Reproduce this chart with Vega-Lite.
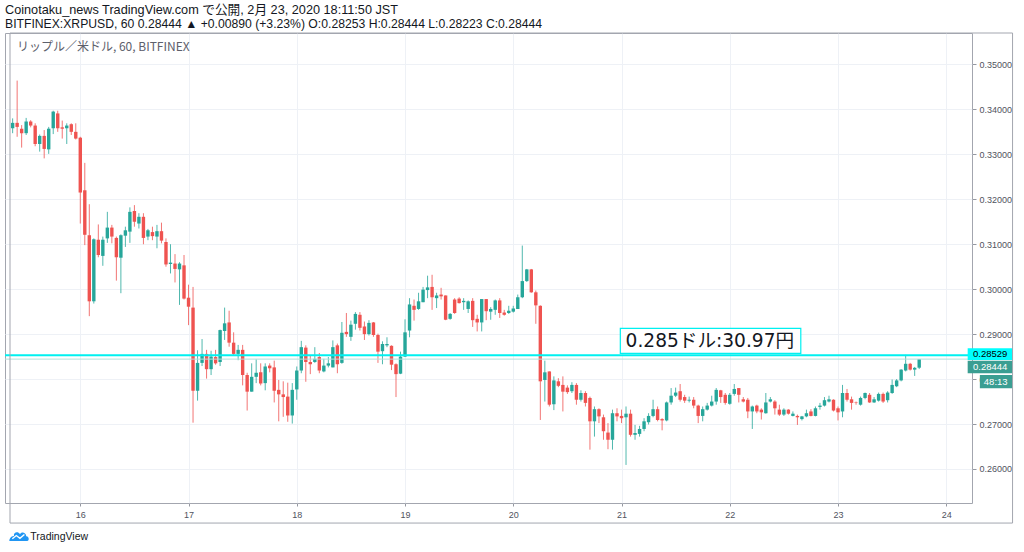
{
  "$schema": "https://vega.github.io/schema/vega-lite/v6.json",
  "width": 967,
  "height": 470,
  "autosize": {"type": "none"},
  "padding": {"left": 5, "top": 33, "right": 52, "bottom": 49},
  "background": "#ffffff",
  "title": {
    "text": "Coinotaku_news TradingView.com で公開, 2月 23, 2020 18:11:50 JST",
    "subtitle": "BITFINEX:XRPUSD, 60 0.28444 ▲ +0.00890 (+3.23%) O:0.28253 H:0.28444 L:0.28223 C:0.28444",
    "anchor": "start",
    "frame": "group",
    "font": "Liberation Sans, Noto Sans CJK JP",
    "fontSize": 12.7,
    "fontWeight": "normal",
    "color": "#131722",
    "subtitleFont": "Liberation Sans, Noto Sans CJK JP",
    "subtitleFontSize": 12.2,
    "subtitleColor": "#131722",
    "subtitlePadding": 2,
    "offset": 2
  },
  "config": {
    "view": {"stroke": "#a3a6af", "strokeWidth": 1},
    "axis": {
      "labelFont": "Liberation Sans",
      "labelFontSize": 9,
      "labelColor": "#50535e",
      "tickColor": "#9598a1",
      "gridColor": "#eef1f6",
      "domain": false,
      "title": null
    }
  },
  "datasets": {
    "xrp": [
      {"t": "2020-02-15T09:00:00Z", "o": 0.3358, "h": 0.3380, "l": 0.3347, "c": 0.3370},
      {"t": "2020-02-15T10:00:00Z", "o": 0.3370, "h": 0.3464, "l": 0.3339, "c": 0.3361},
      {"t": "2020-02-15T11:00:00Z", "o": 0.3357, "h": 0.3365, "l": 0.3315, "c": 0.3347},
      {"t": "2020-02-15T12:00:00Z", "o": 0.3347, "h": 0.3381, "l": 0.3343, "c": 0.3373},
      {"t": "2020-02-15T13:00:00Z", "o": 0.3373, "h": 0.3376, "l": 0.3360, "c": 0.3364},
      {"t": "2020-02-15T14:00:00Z", "o": 0.3364, "h": 0.3369, "l": 0.3318, "c": 0.3323},
      {"t": "2020-02-15T15:00:00Z", "o": 0.3323, "h": 0.3344, "l": 0.3306, "c": 0.3341},
      {"t": "2020-02-15T16:00:00Z", "o": 0.3341, "h": 0.3354, "l": 0.3291, "c": 0.3312},
      {"t": "2020-02-15T17:00:00Z", "o": 0.3311, "h": 0.3361, "l": 0.3301, "c": 0.3357},
      {"t": "2020-02-15T18:00:00Z", "o": 0.3358, "h": 0.3397, "l": 0.3345, "c": 0.3395},
      {"t": "2020-02-15T19:00:00Z", "o": 0.3391, "h": 0.3397, "l": 0.3350, "c": 0.3358},
      {"t": "2020-02-15T20:00:00Z", "o": 0.3360, "h": 0.3375, "l": 0.3335, "c": 0.3357},
      {"t": "2020-02-15T21:00:00Z", "o": 0.3358, "h": 0.3369, "l": 0.3323, "c": 0.3364},
      {"t": "2020-02-15T22:00:00Z", "o": 0.3367, "h": 0.3369, "l": 0.3343, "c": 0.3350},
      {"t": "2020-02-15T23:00:00Z", "o": 0.3350, "h": 0.3369, "l": 0.3333, "c": 0.3335},
      {"t": "2020-02-16T00:00:00Z", "o": 0.3337, "h": 0.3339, "l": 0.3146, "c": 0.3215},
      {"t": "2020-02-16T01:00:00Z", "o": 0.3220, "h": 0.3281, "l": 0.3098, "c": 0.3121},
      {"t": "2020-02-16T02:00:00Z", "o": 0.3120, "h": 0.3189, "l": 0.2940, "c": 0.2973},
      {"t": "2020-02-16T03:00:00Z", "o": 0.2973, "h": 0.3113, "l": 0.2968, "c": 0.3111},
      {"t": "2020-02-16T04:00:00Z", "o": 0.3110, "h": 0.3144, "l": 0.3071, "c": 0.3076},
      {"t": "2020-02-16T05:00:00Z", "o": 0.3074, "h": 0.3117, "l": 0.3052, "c": 0.3110},
      {"t": "2020-02-16T06:00:00Z", "o": 0.3113, "h": 0.3172, "l": 0.3103, "c": 0.3137},
      {"t": "2020-02-16T07:00:00Z", "o": 0.3137, "h": 0.3143, "l": 0.3102, "c": 0.3117},
      {"t": "2020-02-16T08:00:00Z", "o": 0.3114, "h": 0.3117, "l": 0.3019, "c": 0.3071},
      {"t": "2020-02-16T09:00:00Z", "o": 0.3070, "h": 0.3122, "l": 0.2991, "c": 0.3120},
      {"t": "2020-02-16T10:00:00Z", "o": 0.3119, "h": 0.3139, "l": 0.3094, "c": 0.3131},
      {"t": "2020-02-16T11:00:00Z", "o": 0.3128, "h": 0.3182, "l": 0.3103, "c": 0.3172},
      {"t": "2020-02-16T12:00:00Z", "o": 0.3174, "h": 0.3187, "l": 0.3139, "c": 0.3150},
      {"t": "2020-02-16T13:00:00Z", "o": 0.3146, "h": 0.3169, "l": 0.3135, "c": 0.3161},
      {"t": "2020-02-16T14:00:00Z", "o": 0.3161, "h": 0.3169, "l": 0.3100, "c": 0.3114},
      {"t": "2020-02-16T15:00:00Z", "o": 0.3117, "h": 0.3134, "l": 0.3109, "c": 0.3131},
      {"t": "2020-02-16T16:00:00Z", "o": 0.3127, "h": 0.3139, "l": 0.3109, "c": 0.3118},
      {"t": "2020-02-16T17:00:00Z", "o": 0.3117, "h": 0.3143, "l": 0.3091, "c": 0.3129},
      {"t": "2020-02-16T18:00:00Z", "o": 0.3129, "h": 0.3148, "l": 0.3102, "c": 0.3108},
      {"t": "2020-02-16T19:00:00Z", "o": 0.3105, "h": 0.3113, "l": 0.3050, "c": 0.3055},
      {"t": "2020-02-16T20:00:00Z", "o": 0.3056, "h": 0.3100, "l": 0.3035, "c": 0.3059},
      {"t": "2020-02-16T21:00:00Z", "o": 0.3057, "h": 0.3078, "l": 0.3015, "c": 0.3045},
      {"t": "2020-02-16T22:00:00Z", "o": 0.3044, "h": 0.3060, "l": 0.2965, "c": 0.3057},
      {"t": "2020-02-16T23:00:00Z", "o": 0.3053, "h": 0.3076, "l": 0.2977, "c": 0.2979},
      {"t": "2020-02-17T00:00:00Z", "o": 0.2981, "h": 0.3010, "l": 0.2920, "c": 0.2961},
      {"t": "2020-02-17T01:00:00Z", "o": 0.2959, "h": 0.3005, "l": 0.2703, "c": 0.2774},
      {"t": "2020-02-17T02:00:00Z", "o": 0.2774, "h": 0.2864, "l": 0.2752, "c": 0.2836},
      {"t": "2020-02-17T03:00:00Z", "o": 0.2836, "h": 0.2889, "l": 0.2829, "c": 0.2856},
      {"t": "2020-02-17T04:00:00Z", "o": 0.2856, "h": 0.2865, "l": 0.2801, "c": 0.2822},
      {"t": "2020-02-17T05:00:00Z", "o": 0.2822, "h": 0.2863, "l": 0.2809, "c": 0.2850},
      {"t": "2020-02-17T06:00:00Z", "o": 0.2849, "h": 0.2865, "l": 0.2832, "c": 0.2835},
      {"t": "2020-02-17T07:00:00Z", "o": 0.2838, "h": 0.2910, "l": 0.2829, "c": 0.2909},
      {"t": "2020-02-17T08:00:00Z", "o": 0.2907, "h": 0.2959, "l": 0.2887, "c": 0.2924},
      {"t": "2020-02-17T09:00:00Z", "o": 0.2926, "h": 0.2952, "l": 0.2872, "c": 0.2881},
      {"t": "2020-02-17T10:00:00Z", "o": 0.2881, "h": 0.2904, "l": 0.2852, "c": 0.2856},
      {"t": "2020-02-17T11:00:00Z", "o": 0.2856, "h": 0.2876, "l": 0.2842, "c": 0.2865},
      {"t": "2020-02-17T12:00:00Z", "o": 0.2865, "h": 0.2876, "l": 0.2786, "c": 0.2809},
      {"t": "2020-02-17T13:00:00Z", "o": 0.2809, "h": 0.2814, "l": 0.2730, "c": 0.2772},
      {"t": "2020-02-17T14:00:00Z", "o": 0.2772, "h": 0.2835, "l": 0.2772, "c": 0.2805},
      {"t": "2020-02-17T15:00:00Z", "o": 0.2805, "h": 0.2844, "l": 0.2791, "c": 0.2814},
      {"t": "2020-02-17T16:00:00Z", "o": 0.2815, "h": 0.2835, "l": 0.2786, "c": 0.2790},
      {"t": "2020-02-17T17:00:00Z", "o": 0.2791, "h": 0.2835, "l": 0.2775, "c": 0.2828},
      {"t": "2020-02-17T18:00:00Z", "o": 0.2830, "h": 0.2835, "l": 0.2815, "c": 0.2824},
      {"t": "2020-02-17T19:00:00Z", "o": 0.2826, "h": 0.2841, "l": 0.2748, "c": 0.2774},
      {"t": "2020-02-17T20:00:00Z", "o": 0.2776, "h": 0.2798, "l": 0.2706, "c": 0.2766},
      {"t": "2020-02-17T21:00:00Z", "o": 0.2766, "h": 0.2795, "l": 0.2716, "c": 0.2760},
      {"t": "2020-02-17T22:00:00Z", "o": 0.2761, "h": 0.2792, "l": 0.2705, "c": 0.2719},
      {"t": "2020-02-17T23:00:00Z", "o": 0.2719, "h": 0.2791, "l": 0.2701, "c": 0.2776},
      {"t": "2020-02-18T00:00:00Z", "o": 0.2777, "h": 0.2828, "l": 0.2754, "c": 0.2819},
      {"t": "2020-02-18T01:00:00Z", "o": 0.2819, "h": 0.2885, "l": 0.2813, "c": 0.2871},
      {"t": "2020-02-18T02:00:00Z", "o": 0.2870, "h": 0.2875, "l": 0.2794, "c": 0.2838},
      {"t": "2020-02-18T03:00:00Z", "o": 0.2838, "h": 0.2853, "l": 0.2811, "c": 0.2833},
      {"t": "2020-02-18T04:00:00Z", "o": 0.2838, "h": 0.2871, "l": 0.2836, "c": 0.2845},
      {"t": "2020-02-18T05:00:00Z", "o": 0.2849, "h": 0.2858, "l": 0.2813, "c": 0.2819},
      {"t": "2020-02-18T06:00:00Z", "o": 0.2817, "h": 0.2845, "l": 0.2815, "c": 0.2830},
      {"t": "2020-02-18T07:00:00Z", "o": 0.2830, "h": 0.2849, "l": 0.2826, "c": 0.2835},
      {"t": "2020-02-18T08:00:00Z", "o": 0.2826, "h": 0.2886, "l": 0.2826, "c": 0.2871},
      {"t": "2020-02-18T09:00:00Z", "o": 0.2875, "h": 0.2879, "l": 0.2813, "c": 0.2833},
      {"t": "2020-02-18T10:00:00Z", "o": 0.2836, "h": 0.2927, "l": 0.2834, "c": 0.2903},
      {"t": "2020-02-18T11:00:00Z", "o": 0.2905, "h": 0.2947, "l": 0.2894, "c": 0.2900},
      {"t": "2020-02-18T12:00:00Z", "o": 0.2894, "h": 0.2930, "l": 0.2885, "c": 0.2921},
      {"t": "2020-02-18T13:00:00Z", "o": 0.2923, "h": 0.2949, "l": 0.2910, "c": 0.2945},
      {"t": "2020-02-18T14:00:00Z", "o": 0.2943, "h": 0.2949, "l": 0.2908, "c": 0.2914},
      {"t": "2020-02-18T15:00:00Z", "o": 0.2917, "h": 0.2928, "l": 0.2887, "c": 0.2900},
      {"t": "2020-02-18T16:00:00Z", "o": 0.2900, "h": 0.2931, "l": 0.2897, "c": 0.2925},
      {"t": "2020-02-18T17:00:00Z", "o": 0.2926, "h": 0.2927, "l": 0.2894, "c": 0.2898},
      {"t": "2020-02-18T18:00:00Z", "o": 0.2898, "h": 0.2901, "l": 0.2836, "c": 0.2861},
      {"t": "2020-02-18T19:00:00Z", "o": 0.2862, "h": 0.2884, "l": 0.2833, "c": 0.2878},
      {"t": "2020-02-18T20:00:00Z", "o": 0.2875, "h": 0.2893, "l": 0.2871, "c": 0.2878},
      {"t": "2020-02-18T21:00:00Z", "o": 0.2874, "h": 0.2875, "l": 0.2820, "c": 0.2832},
      {"t": "2020-02-18T22:00:00Z", "o": 0.2833, "h": 0.2835, "l": 0.2760, "c": 0.2811},
      {"t": "2020-02-18T23:00:00Z", "o": 0.2812, "h": 0.2861, "l": 0.2811, "c": 0.2850},
      {"t": "2020-02-19T00:00:00Z", "o": 0.2850, "h": 0.2933, "l": 0.2849, "c": 0.2904},
      {"t": "2020-02-19T01:00:00Z", "o": 0.2908, "h": 0.2980, "l": 0.2893, "c": 0.2966},
      {"t": "2020-02-19T02:00:00Z", "o": 0.2963, "h": 0.2977, "l": 0.2930, "c": 0.2954},
      {"t": "2020-02-19T03:00:00Z", "o": 0.2956, "h": 0.2992, "l": 0.2954, "c": 0.2973},
      {"t": "2020-02-19T04:00:00Z", "o": 0.2971, "h": 0.3005, "l": 0.2971, "c": 0.2999},
      {"t": "2020-02-19T05:00:00Z", "o": 0.2998, "h": 0.3030, "l": 0.2980, "c": 0.3004},
      {"t": "2020-02-19T06:00:00Z", "o": 0.3005, "h": 0.3032, "l": 0.2954, "c": 0.2982},
      {"t": "2020-02-19T07:00:00Z", "o": 0.2980, "h": 0.2992, "l": 0.2958, "c": 0.2986},
      {"t": "2020-02-19T08:00:00Z", "o": 0.2988, "h": 0.3003, "l": 0.2977, "c": 0.2984},
      {"t": "2020-02-19T09:00:00Z", "o": 0.2986, "h": 0.2986, "l": 0.2931, "c": 0.2932},
      {"t": "2020-02-19T10:00:00Z", "o": 0.2934, "h": 0.2947, "l": 0.2932, "c": 0.2945},
      {"t": "2020-02-19T11:00:00Z", "o": 0.2977, "h": 0.2980, "l": 0.2945, "c": 0.2947},
      {"t": "2020-02-19T12:00:00Z", "o": 0.2979, "h": 0.2982, "l": 0.2968, "c": 0.2969},
      {"t": "2020-02-19T13:00:00Z", "o": 0.2971, "h": 0.2980, "l": 0.2954, "c": 0.2974},
      {"t": "2020-02-19T14:00:00Z", "o": 0.2956, "h": 0.2975, "l": 0.2947, "c": 0.2973},
      {"t": "2020-02-19T15:00:00Z", "o": 0.2974, "h": 0.2980, "l": 0.2916, "c": 0.2931},
      {"t": "2020-02-19T16:00:00Z", "o": 0.2934, "h": 0.2943, "l": 0.2906, "c": 0.2926},
      {"t": "2020-02-19T17:00:00Z", "o": 0.2926, "h": 0.2978, "l": 0.2906, "c": 0.2978},
      {"t": "2020-02-19T18:00:00Z", "o": 0.2978, "h": 0.2978, "l": 0.2931, "c": 0.2951},
      {"t": "2020-02-19T19:00:00Z", "o": 0.2950, "h": 0.2960, "l": 0.2932, "c": 0.2956},
      {"t": "2020-02-19T20:00:00Z", "o": 0.2954, "h": 0.2977, "l": 0.2943, "c": 0.2975},
      {"t": "2020-02-19T21:00:00Z", "o": 0.2975, "h": 0.2980, "l": 0.2936, "c": 0.2947},
      {"t": "2020-02-19T22:00:00Z", "o": 0.2948, "h": 0.2954, "l": 0.2941, "c": 0.2943},
      {"t": "2020-02-19T23:00:00Z", "o": 0.2947, "h": 0.2963, "l": 0.2945, "c": 0.2952},
      {"t": "2020-02-20T00:00:00Z", "o": 0.2950, "h": 0.2963, "l": 0.2948, "c": 0.2957},
      {"t": "2020-02-20T01:00:00Z", "o": 0.2956, "h": 0.2988, "l": 0.2956, "c": 0.2982},
      {"t": "2020-02-20T02:00:00Z", "o": 0.2982, "h": 0.3097, "l": 0.2980, "c": 0.3018},
      {"t": "2020-02-20T03:00:00Z", "o": 0.3018, "h": 0.3045, "l": 0.3016, "c": 0.3044},
      {"t": "2020-02-20T04:00:00Z", "o": 0.3044, "h": 0.3045, "l": 0.2992, "c": 0.2993},
      {"t": "2020-02-20T05:00:00Z", "o": 0.2993, "h": 0.2997, "l": 0.2923, "c": 0.2964},
      {"t": "2020-02-20T06:00:00Z", "o": 0.2963, "h": 0.2964, "l": 0.2709, "c": 0.2795},
      {"t": "2020-02-20T07:00:00Z", "o": 0.2798, "h": 0.2841, "l": 0.2750, "c": 0.2815},
      {"t": "2020-02-20T08:00:00Z", "o": 0.2817, "h": 0.2817, "l": 0.2739, "c": 0.2743},
      {"t": "2020-02-20T09:00:00Z", "o": 0.2744, "h": 0.2806, "l": 0.2731, "c": 0.2797},
      {"t": "2020-02-20T10:00:00Z", "o": 0.2795, "h": 0.2802, "l": 0.2782, "c": 0.2785},
      {"t": "2020-02-20T11:00:00Z", "o": 0.2787, "h": 0.2806, "l": 0.2728, "c": 0.2772},
      {"t": "2020-02-20T12:00:00Z", "o": 0.2781, "h": 0.2786, "l": 0.2767, "c": 0.2771},
      {"t": "2020-02-20T13:00:00Z", "o": 0.2773, "h": 0.2793, "l": 0.2769, "c": 0.2787},
      {"t": "2020-02-20T14:00:00Z", "o": 0.2787, "h": 0.2791, "l": 0.2743, "c": 0.2754},
      {"t": "2020-02-20T15:00:00Z", "o": 0.2754, "h": 0.2775, "l": 0.2750, "c": 0.2769},
      {"t": "2020-02-20T16:00:00Z", "o": 0.2769, "h": 0.2773, "l": 0.2739, "c": 0.2747},
      {"t": "2020-02-20T17:00:00Z", "o": 0.2758, "h": 0.2761, "l": 0.2643, "c": 0.2706},
      {"t": "2020-02-20T18:00:00Z", "o": 0.2706, "h": 0.2739, "l": 0.2672, "c": 0.2733},
      {"t": "2020-02-20T19:00:00Z", "o": 0.2733, "h": 0.2735, "l": 0.2702, "c": 0.2717},
      {"t": "2020-02-20T20:00:00Z", "o": 0.2715, "h": 0.2721, "l": 0.2665, "c": 0.2684},
      {"t": "2020-02-20T21:00:00Z", "o": 0.2681, "h": 0.2702, "l": 0.2644, "c": 0.2665},
      {"t": "2020-02-20T22:00:00Z", "o": 0.2665, "h": 0.2732, "l": 0.2643, "c": 0.2724},
      {"t": "2020-02-20T23:00:00Z", "o": 0.2724, "h": 0.2735, "l": 0.2706, "c": 0.2717},
      {"t": "2020-02-21T00:00:00Z", "o": 0.2718, "h": 0.2732, "l": 0.2702, "c": 0.2713},
      {"t": "2020-02-21T01:00:00Z", "o": 0.2715, "h": 0.2739, "l": 0.2609, "c": 0.2723},
      {"t": "2020-02-21T02:00:00Z", "o": 0.2723, "h": 0.2732, "l": 0.2672, "c": 0.2676},
      {"t": "2020-02-21T03:00:00Z", "o": 0.2676, "h": 0.2698, "l": 0.2665, "c": 0.2680},
      {"t": "2020-02-21T04:00:00Z", "o": 0.2678, "h": 0.2696, "l": 0.2672, "c": 0.2689},
      {"t": "2020-02-21T05:00:00Z", "o": 0.2689, "h": 0.2713, "l": 0.2684, "c": 0.2706},
      {"t": "2020-02-21T06:00:00Z", "o": 0.2704, "h": 0.2724, "l": 0.2699, "c": 0.2718},
      {"t": "2020-02-21T07:00:00Z", "o": 0.2718, "h": 0.2754, "l": 0.2715, "c": 0.2733},
      {"t": "2020-02-21T08:00:00Z", "o": 0.2733, "h": 0.2739, "l": 0.2706, "c": 0.2709},
      {"t": "2020-02-21T09:00:00Z", "o": 0.2711, "h": 0.2713, "l": 0.2686, "c": 0.2708},
      {"t": "2020-02-21T10:00:00Z", "o": 0.2708, "h": 0.2750, "l": 0.2706, "c": 0.2748},
      {"t": "2020-02-21T11:00:00Z", "o": 0.2748, "h": 0.2780, "l": 0.2743, "c": 0.2763},
      {"t": "2020-02-21T12:00:00Z", "o": 0.2763, "h": 0.2781, "l": 0.2760, "c": 0.2770},
      {"t": "2020-02-21T13:00:00Z", "o": 0.2773, "h": 0.2789, "l": 0.2750, "c": 0.2754},
      {"t": "2020-02-21T14:00:00Z", "o": 0.2760, "h": 0.2765, "l": 0.2747, "c": 0.2752},
      {"t": "2020-02-21T15:00:00Z", "o": 0.2752, "h": 0.2761, "l": 0.2748, "c": 0.2754},
      {"t": "2020-02-21T16:00:00Z", "o": 0.2754, "h": 0.2760, "l": 0.2735, "c": 0.2741},
      {"t": "2020-02-21T17:00:00Z", "o": 0.2741, "h": 0.2743, "l": 0.2702, "c": 0.2718},
      {"t": "2020-02-21T18:00:00Z", "o": 0.2718, "h": 0.2739, "l": 0.2706, "c": 0.2733},
      {"t": "2020-02-21T19:00:00Z", "o": 0.2732, "h": 0.2747, "l": 0.2730, "c": 0.2741},
      {"t": "2020-02-21T20:00:00Z", "o": 0.2741, "h": 0.2763, "l": 0.2739, "c": 0.2750},
      {"t": "2020-02-21T21:00:00Z", "o": 0.2750, "h": 0.2780, "l": 0.2743, "c": 0.2776},
      {"t": "2020-02-21T22:00:00Z", "o": 0.2775, "h": 0.2776, "l": 0.2747, "c": 0.2760},
      {"t": "2020-02-21T23:00:00Z", "o": 0.2765, "h": 0.2769, "l": 0.2743, "c": 0.2747},
      {"t": "2020-02-22T00:00:00Z", "o": 0.2745, "h": 0.2769, "l": 0.2743, "c": 0.2765},
      {"t": "2020-02-22T01:00:00Z", "o": 0.2767, "h": 0.2789, "l": 0.2763, "c": 0.2778},
      {"t": "2020-02-22T02:00:00Z", "o": 0.2780, "h": 0.2780, "l": 0.2748, "c": 0.2765},
      {"t": "2020-02-22T03:00:00Z", "o": 0.2755, "h": 0.2760, "l": 0.2748, "c": 0.2750},
      {"t": "2020-02-22T04:00:00Z", "o": 0.2754, "h": 0.2758, "l": 0.2713, "c": 0.2728},
      {"t": "2020-02-22T05:00:00Z", "o": 0.2728, "h": 0.2741, "l": 0.2689, "c": 0.2739},
      {"t": "2020-02-22T06:00:00Z", "o": 0.2741, "h": 0.2743, "l": 0.2724, "c": 0.2728},
      {"t": "2020-02-22T07:00:00Z", "o": 0.2732, "h": 0.2735, "l": 0.2710, "c": 0.2726},
      {"t": "2020-02-22T08:00:00Z", "o": 0.2724, "h": 0.2769, "l": 0.2723, "c": 0.2748},
      {"t": "2020-02-22T09:00:00Z", "o": 0.2750, "h": 0.2760, "l": 0.2748, "c": 0.2755},
      {"t": "2020-02-22T10:00:00Z", "o": 0.2750, "h": 0.2753, "l": 0.2721, "c": 0.2735},
      {"t": "2020-02-22T11:00:00Z", "o": 0.2732, "h": 0.2743, "l": 0.2718, "c": 0.2721},
      {"t": "2020-02-22T12:00:00Z", "o": 0.2721, "h": 0.2735, "l": 0.2718, "c": 0.2732},
      {"t": "2020-02-22T13:00:00Z", "o": 0.2732, "h": 0.2733, "l": 0.2721, "c": 0.2723},
      {"t": "2020-02-22T14:00:00Z", "o": 0.2718, "h": 0.2728, "l": 0.2717, "c": 0.2723},
      {"t": "2020-02-22T15:00:00Z", "o": 0.2718, "h": 0.2721, "l": 0.2698, "c": 0.2715},
      {"t": "2020-02-22T16:00:00Z", "o": 0.2711, "h": 0.2718, "l": 0.2708, "c": 0.2717},
      {"t": "2020-02-22T17:00:00Z", "o": 0.2717, "h": 0.2732, "l": 0.2715, "c": 0.2724},
      {"t": "2020-02-22T18:00:00Z", "o": 0.2728, "h": 0.2733, "l": 0.2717, "c": 0.2718},
      {"t": "2020-02-22T19:00:00Z", "o": 0.2718, "h": 0.2739, "l": 0.2717, "c": 0.2735},
      {"t": "2020-02-22T20:00:00Z", "o": 0.2738, "h": 0.2747, "l": 0.2732, "c": 0.2741},
      {"t": "2020-02-22T21:00:00Z", "o": 0.2741, "h": 0.2760, "l": 0.2739, "c": 0.2753},
      {"t": "2020-02-22T22:00:00Z", "o": 0.2750, "h": 0.2763, "l": 0.2748, "c": 0.2755},
      {"t": "2020-02-22T23:00:00Z", "o": 0.2754, "h": 0.2755, "l": 0.2728, "c": 0.2730},
      {"t": "2020-02-23T00:00:00Z", "o": 0.2735, "h": 0.2739, "l": 0.2708, "c": 0.2726},
      {"t": "2020-02-23T01:00:00Z", "o": 0.2728, "h": 0.2787, "l": 0.2715, "c": 0.2769},
      {"t": "2020-02-23T02:00:00Z", "o": 0.2769, "h": 0.2778, "l": 0.2750, "c": 0.2754},
      {"t": "2020-02-23T03:00:00Z", "o": 0.2755, "h": 0.2761, "l": 0.2732, "c": 0.2747},
      {"t": "2020-02-23T04:00:00Z", "o": 0.2748, "h": 0.2750, "l": 0.2743, "c": 0.2747},
      {"t": "2020-02-23T05:00:00Z", "o": 0.2743, "h": 0.2761, "l": 0.2741, "c": 0.2758},
      {"t": "2020-02-23T06:00:00Z", "o": 0.2758, "h": 0.2770, "l": 0.2755, "c": 0.2769},
      {"t": "2020-02-23T07:00:00Z", "o": 0.2765, "h": 0.2769, "l": 0.2747, "c": 0.2748},
      {"t": "2020-02-23T08:00:00Z", "o": 0.2748, "h": 0.2760, "l": 0.2747, "c": 0.2755},
      {"t": "2020-02-23T09:00:00Z", "o": 0.2752, "h": 0.2770, "l": 0.2750, "c": 0.2767},
      {"t": "2020-02-23T10:00:00Z", "o": 0.2767, "h": 0.2770, "l": 0.2747, "c": 0.2750},
      {"t": "2020-02-23T11:00:00Z", "o": 0.2753, "h": 0.2773, "l": 0.2748, "c": 0.2770},
      {"t": "2020-02-23T12:00:00Z", "o": 0.2769, "h": 0.2799, "l": 0.2767, "c": 0.2787},
      {"t": "2020-02-23T13:00:00Z", "o": 0.2784, "h": 0.2800, "l": 0.2782, "c": 0.2797},
      {"t": "2020-02-23T14:00:00Z", "o": 0.2797, "h": 0.2822, "l": 0.2795, "c": 0.2821},
      {"t": "2020-02-23T15:00:00Z", "o": 0.2819, "h": 0.2854, "l": 0.2817, "c": 0.2834},
      {"t": "2020-02-23T16:00:00Z", "o": 0.2834, "h": 0.2836, "l": 0.2819, "c": 0.2821},
      {"t": "2020-02-23T17:00:00Z", "o": 0.2821, "h": 0.2827, "l": 0.2807, "c": 0.2825},
      {"t": "2020-02-23T18:00:00Z", "o": 0.28253, "h": 0.28444, "l": 0.28223, "c": 0.28444}
    ]
  },
  "layer": [
    {
      "data": {"name": "xrp"},
      "mark": {"type": "rule", "strokeWidth": 1, "opacity": 0.8},
      "encoding": {
        "x": {
          "field": "t",
          "type": "temporal",
          "scale": {
            "type": "utc",
            "domain": [
              {"year": 2020, "month": 2, "date": 15, "hours": 8, "minutes": 25, "utc": true},
              {"year": 2020, "month": 2, "date": 24, "hours": 4, "minutes": 36, "utc": true}
            ]
          },
          "axis": {
            "orient": "bottom",
            "format": "%-d",
            "values": [
              {"year": 2020, "month": 2, "date": 16, "utc": true},
              {"year": 2020, "month": 2, "date": 17, "utc": true},
              {"year": 2020, "month": 2, "date": 18, "utc": true},
              {"year": 2020, "month": 2, "date": 19, "utc": true},
              {"year": 2020, "month": 2, "date": 20, "utc": true},
              {"year": 2020, "month": 2, "date": 21, "utc": true},
              {"year": 2020, "month": 2, "date": 22, "utc": true},
              {"year": 2020, "month": 2, "date": 23, "utc": true},
              {"year": 2020, "month": 2, "date": 24, "utc": true}
            ],
            "tickSize": 3,
            "labelPadding": 4,
            "labelFlush": false
          }
        },
        "y": {
          "field": "l",
          "type": "quantitative",
          "scale": {"domain": [0.25243, 0.35699], "nice": false, "zero": false},
          "axis": {
            "orient": "right",
            "format": ".5f",
            "values": [0.26, 0.27, 0.28, 0.29, 0.30, 0.31, 0.32, 0.33, 0.34, 0.35],
            "tickSize": 4,
            "labelPadding": 3
          }
        },
        "y2": {"field": "h"},
        "color": {
          "condition": {"test": "datum.c >= datum.o", "value": "#26a69a"},
          "value": "#ef5350"
        }
      }
    },
    {
      "data": {"name": "xrp"},
      "mark": {"type": "bar", "size": 3.4},
      "encoding": {
        "x": {"field": "t", "type": "temporal"},
        "y": {"field": "o", "type": "quantitative"},
        "y2": {"field": "c"},
        "color": {
          "condition": {"test": "datum.c >= datum.o", "value": "#26a69a"},
          "value": "#ef5350"
        }
      }
    },
    {
      "data": {"values": [{}]},
      "mark": {"type": "rule", "color": "#b2dfdb", "strokeWidth": 1},
      "encoding": {"y": {"datum": 0.28444, "type": "quantitative"}}
    },
    {
      "data": {"values": [{}]},
      "mark": {"type": "rule", "color": "#00f0f0", "strokeWidth": 2},
      "encoding": {"y": {"datum": 0.28529, "type": "quantitative"}}
    },
    {
      "data": {"values": [{}]},
      "mark": {"type": "rect", "fill": "#ffffff", "stroke": "#00f0f0", "strokeWidth": 1.2},
      "encoding": {
        "x": {"datum": {"year": 2020, "month": 2, "date": 20, "hours": 23, "minutes": 44, "utc": true}, "type": "temporal"},
        "x2": {"datum": {"year": 2020, "month": 2, "date": 22, "hours": 15, "minutes": 45, "utc": true}},
        "y": {"datum": 0.29129, "type": "quantitative"},
        "y2": {"datum": 0.28573}
      }
    },
    {
      "data": {"values": [{}]},
      "mark": {"type": "text", "text": "0.285ドル:30.97円", "font": "DejaVu Sans, Noto Sans CJK JP", "fontSize": 18.6, "color": "#131722", "align": "left", "baseline": "middle"},
      "encoding": {
        "x": {"datum": {"year": 2020, "month": 2, "date": 21, "hours": 0, "minutes": 54, "utc": true}, "type": "temporal"},
        "y": {"datum": 0.28846, "type": "quantitative"}
      }
    },
    {
      "data": {"values": [{}]},
      "mark": {"type": "text", "text": "リップル／米ドル, 60, BITFINEX", "font": "Noto Sans CJK JP", "fontSize": 12, "color": "#5d606b", "align": "left", "baseline": "middle"},
      "encoding": {
        "x": {"datum": {"year": 2020, "month": 2, "date": 15, "hours": 9, "minutes": 57, "utc": true}, "type": "temporal"},
        "y": {"datum": 0.35387, "type": "quantitative"}
      }
    },
    {
      "data": {"values": [{}]},
      "mark": {"type": "rect", "fill": "#00ffff"},
      "encoding": {
        "x": {"datum": {"year": 2020, "month": 2, "date": 24, "hours": 4, "minutes": 45, "utc": true}, "type": "temporal"},
        "x2": {"datum": {"year": 2020, "month": 2, "date": 24, "hours": 14, "minutes": 42, "utc": true}},
        "y": {"datum": 0.28684, "type": "quantitative"},
        "y2": {"datum": 0.28424}
      }
    },
    {
      "data": {"values": [{}]},
      "mark": {"type": "rect", "fill": "#3a9e92"},
      "encoding": {
        "x": {"datum": {"year": 2020, "month": 2, "date": 24, "hours": 4, "minutes": 45, "utc": true}, "type": "temporal"},
        "x2": {"datum": {"year": 2020, "month": 2, "date": 24, "hours": 14, "minutes": 42, "utc": true}},
        "y": {"datum": 0.28408, "type": "quantitative"},
        "y2": {"datum": 0.28128}
      }
    },
    {
      "data": {"values": [{}]},
      "mark": {"type": "rect", "fill": "#3a9e92"},
      "encoding": {
        "x": {"datum": {"year": 2020, "month": 2, "date": 24, "hours": 7, "minutes": 27, "utc": true}, "type": "temporal"},
        "x2": {"datum": {"year": 2020, "month": 2, "date": 24, "hours": 14, "minutes": 42, "utc": true}},
        "y": {"datum": 0.2809, "type": "quantitative"},
        "y2": {"datum": 0.27794}
      }
    },
    {
      "data": {"values": [{}]},
      "mark": {"type": "text", "text": "0.28529", "font": "Liberation Sans", "fontSize": 9.5, "color": "#000000", "align": "left", "baseline": "middle"},
      "encoding": {
        "x": {"datum": {"year": 2020, "month": 2, "date": 24, "hours": 5, "minutes": 56, "utc": true}, "type": "temporal"},
        "y": {"datum": 0.28553, "type": "quantitative"}
      }
    },
    {
      "data": {"values": [{}]},
      "mark": {"type": "text", "text": "0.28444", "font": "Liberation Sans", "fontSize": 9.5, "color": "#ffffff", "align": "left", "baseline": "middle"},
      "encoding": {
        "x": {"datum": {"year": 2020, "month": 2, "date": 24, "hours": 5, "minutes": 56, "utc": true}, "type": "temporal"},
        "y": {"datum": 0.28268, "type": "quantitative"}
      }
    },
    {
      "data": {"values": [{}]},
      "mark": {"type": "text", "text": "48:13", "font": "Liberation Sans", "fontSize": 9.5, "color": "#ffffff", "align": "left", "baseline": "middle"},
      "encoding": {
        "x": {"datum": {"year": 2020, "month": 2, "date": 24, "hours": 8, "minutes": 20, "utc": true}, "type": "temporal"},
        "y": {"datum": 0.27941, "type": "quantitative"}
      }
    },
    {
      "data": {"values": [{}]},
      "mark": {"type": "rect", "fill": "transparent", "stroke": "#a3a6af", "strokeWidth": 1},
      "encoding": {
        "x": {"datum": {"year": 2020, "month": 2, "date": 15, "hours": 8, "minutes": 25, "utc": true}, "type": "temporal"},
        "x2": {"datum": {"year": 2020, "month": 2, "date": 24, "hours": 14, "minutes": 42, "utc": true}},
        "y": {"datum": 0.24797, "type": "quantitative"},
        "y2": {"datum": 0.35699}
      }
    },
    {
      "data": {"values": [{}]},
      "mark": {
        "type": "point",
        "shape": "M -1 0.45 L 0.85 0.45 C 1.08 0.45 1.08 -0.02 0.75 -0.05 C 0.7 -0.48 0.22 -0.55 0.08 -0.25 C -0.08 -0.58 -0.62 -0.5 -0.55 -0.08 C -0.92 -0.12 -1.12 0.45 -1 0.45 Z",
        "size": 361,
        "filled": true,
        "color": "#2196f3",
        "opacity": 1
      },
      "encoding": {
        "x": {"datum": {"year": 2020, "month": 2, "date": 15, "hours": 10, "minutes": 27, "utc": true}, "type": "temporal"},
        "y": {"datum": 0.24494, "type": "quantitative"}
      }
    },
    {
      "data": {"values": [{}]},
      "mark": {
        "type": "point",
        "shape": "M -0.72 0.22 L -0.3 -0.12 L 0.08 0.18 L 0.55 -0.22",
        "size": 361,
        "filled": false,
        "color": "#ffffff",
        "strokeWidth": 1.4,
        "opacity": 1
      },
      "encoding": {
        "x": {"datum": {"year": 2020, "month": 2, "date": 15, "hours": 10, "minutes": 27, "utc": true}, "type": "temporal"},
        "y": {"datum": 0.24494, "type": "quantitative"}
      }
    },
    {
      "data": {"values": [{}]},
      "mark": {"type": "text", "text": "TradingView", "font": "Liberation Sans", "fontSize": 10.5, "color": "#131722", "align": "left", "baseline": "middle"},
      "encoding": {
        "x": {"datum": {"year": 2020, "month": 2, "date": 15, "hours": 12, "minutes": 55, "utc": true}, "type": "temporal"},
        "y": {"datum": 0.24486, "type": "quantitative"}
      }
    }
  ]
}
